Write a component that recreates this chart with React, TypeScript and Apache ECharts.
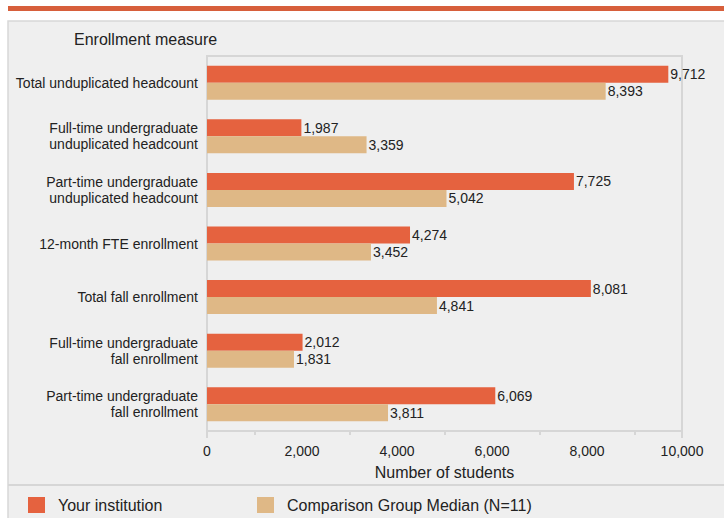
import React, { useEffect, useRef } from "react";
import * as echarts from "echarts";

const categories = [
  "Total unduplicated headcount",
  "Full-time undergraduate\nunduplicated headcount",
  "Part-time undergraduate\nunduplicated headcount",
  "12-month FTE enrollment",
  "Total fall enrollment",
  "Full-time undergraduate\nfall enrollment",
  "Part-time undergraduate\nfall enrollment",
];
const yourInstitution = [9712, 1987, 7725, 4274, 8081, 2012, 6069];
const comparisonMedian = [8393, 3359, 5042, 3452, 4841, 1831, 3811];
const seriesNames = ["Your institution", "Comparison Group Median (N=11)"];

const FONT = "'Liberation Sans', Arial, sans-serif";
const TEXT = "#222";
const GRID = "#d6d6d6";

export default function App() {
  const ref = useRef<HTMLDivElement>(null);
  useEffect(() => {
    if (!ref.current) return;
    const chart = echarts.init(ref.current, null, { renderer: "svg" });
    const fmt = (v: number) => v.toLocaleString("en-US");
    const legendText = { fontFamily: FONT, fontSize: 16, color: TEXT, padding: [0, 0, 0, 8] };
    chart.setOption({
      animation: false,
      backgroundColor: "#ffffff",
      textStyle: { fontFamily: FONT, color: TEXT },
      graphic: [
        {
          type: "rect",
          z: -10,
          shape: { x: 8, y: 21, width: 730, height: 510 },
          style: { fill: "#efefef", stroke: "#d8d8d8", lineWidth: 1.5 },
          silent: true,
        },
        {
          type: "rect",
          z: -9,
          shape: { x: 8, y: 6, width: 716, height: 5 },
          style: { fill: "#d75f3b" },
          silent: true,
        },
        {
          type: "line",
          z: -9,
          shape: { x1: 8, y1: 485, x2: 724, y2: 485 },
          style: { stroke: "#d6d6d6", lineWidth: 2 },
          silent: true,
        },
      ],
      title: {
        text: "Enrollment measure",
        left: 74,
        top: 31,
        padding: 0,
        textStyle: { fontFamily: FONT, fontSize: 16, fontWeight: "normal", color: TEXT },
      },
      legend: [
        {
          data: [seriesNames[0]],
          left: 28,
          top: 497,
          padding: 0,
          itemWidth: 17,
          itemHeight: 16,
          icon: "rect",
          textStyle: legendText,
        },
        {
          data: [seriesNames[1]],
          left: 257,
          top: 497,
          padding: 0,
          itemWidth: 17,
          itemHeight: 16,
          icon: "rect",
          textStyle: legendText,
        },
      ],
      grid: {
        left: 207,
        right: 42,
        top: 56,
        bottom: 87,
        show: true,
        backgroundColor: "transparent",
        borderColor: GRID,
        borderWidth: 2,
      },
      xAxis: {
        type: "value",
        min: 0,
        max: 10000,
        interval: 2000,
        name: "Number of students",
        nameLocation: "middle",
        nameGap: 33,
        nameTextStyle: { fontFamily: FONT, fontSize: 16, color: TEXT },
        axisLine: { show: true, lineStyle: { color: GRID, width: 2 } },
        axisTick: {
          show: true,
          customValues: [0, 10000],
          length: 7,
          lineStyle: { color: GRID, width: 2 },
        },
        minorTick: { show: true, splitNumber: 2, length: 4, lineStyle: { color: GRID, width: 2 } },
        splitLine: { show: true, lineStyle: { color: GRID, width: 1.5 } },
        axisLabel: {
          margin: 13,
          fontFamily: FONT,
          fontSize: 14,
          color: TEXT,
          formatter: (v: number) => fmt(v),
        },
      },
      yAxis: {
        type: "category",
        data: categories,
        inverse: true,
        axisLine: { show: true, lineStyle: { color: GRID, width: 2 } },
        axisTick: { show: false },
        axisLabel: {
          margin: 9,
          fontFamily: FONT,
          fontSize: 14,
          lineHeight: 16,
          color: TEXT,
          align: "right",
        },
      },
      series: [
        {
          name: seriesNames[0],
          type: "bar",
          data: yourInstitution,
          barWidth: 17,
          barGap: "0%",
          itemStyle: { color: "#e5623f" },
          label: {
            show: true,
            position: "right",
            distance: 2,
            fontFamily: FONT,
            fontSize: 14,
            color: TEXT,
            formatter: (p: any) => fmt(p.value),
          },
        },
        {
          name: seriesNames[1],
          type: "bar",
          data: comparisonMedian,
          barWidth: 17,
          barGap: "0%",
          itemStyle: { color: "#dfb886" },
          label: {
            show: true,
            position: "right",
            distance: 2,
            fontFamily: FONT,
            fontSize: 14,
            color: TEXT,
            formatter: (p: any) => fmt(p.value),
          },
        },
      ],
    });
    return () => chart.dispose();
  }, []);
  return (
    <div
      ref={ref}
      style={{ position: "fixed", left: 0, top: 0, width: 724, height: 518 }}
    />
  );
}
